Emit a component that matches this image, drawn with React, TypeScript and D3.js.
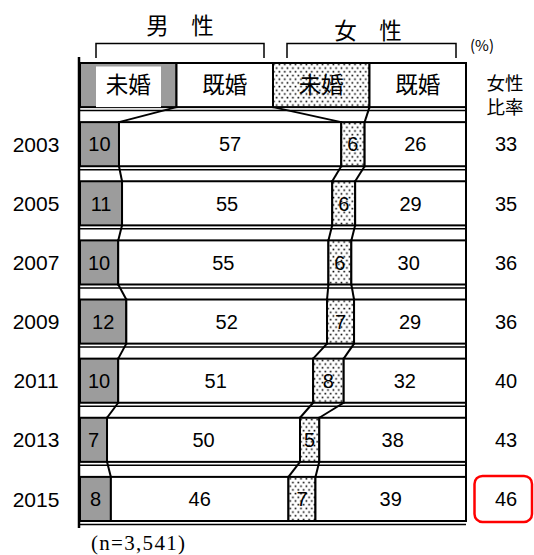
import React from 'react';
import * as d3 from 'd3';

const years = ['2003', '2005', '2007', '2009', '2011', '2013', '2015'];
const maleSingle = [10, 11, 10, 12, 10, 7, 8];
const maleMarried = [57, 55, 55, 52, 51, 50, 46];
const femaleSingle = [6, 6, 6, 7, 8, 5, 7];
const femaleMarried = [26, 29, 30, 29, 32, 38, 39];
const femaleRatio = [33, 35, 36, 36, 40, 43, 46];
const legendLabels = ['未婚', '既婚', '未婚', '既婚'];
const legendShares = [25, 25, 25, 25];

const W = 534;
const H = 555;
const JP = '"Noto Sans CJK JP", sans-serif';
const NUM = '"Liberation Sans", Arial, sans-serif';
const GREY = '#9c9c9c';
const fills = [GREY, '#fff', 'url(#dots)', '#fff'];

interface Row {
  key: string;
  values: number[];
}

const rows: Row[] = [
  { key: 'legend', values: legendShares },
  ...years.map((y, i) => ({
    key: y,
    values: [maleSingle[i], maleMarried[i], femaleSingle[i], femaleMarried[i]]
  }))
];

const App: React.FC = () => {
  const yScale = d3.scaleBand<string>()
    .domain(rows.map(r => r.key))
    .range([63, 521])
    .paddingInner(0.254)
    .paddingOuter(0);
  const xScale = d3.scaleLinear().domain([0, 1]).range([80, 466]);
  const bw = yScale.bandwidth();

  // cumulative edges per row, each row normalised to its own total
  const edges = rows.map(r => {
    const total = d3.sum(r.values);
    const cum = d3.cumsum(r.values);
    return [0, ...Array.from(cum)].map(v => xScale(v / total));
  });

  return (
    <svg width={W} height={H} style={{ position: 'absolute', left: 0, top: 0, background: '#fff' }}>
      <defs>
        <pattern id="dots" width={5.4} height={7.4} patternUnits="userSpaceOnUse">
          <rect width={5.4} height={7.4} fill="#fff" />
          <rect x={0.5} y={0.7} width={1.6} height={1.6} fill="#000" />
          <rect x={3.2} y={4.4} width={1.6} height={1.6} fill="#000" />
        </pattern>
      </defs>

      {/* gender headers */}
      <text x={180} y={34} textAnchor="middle" fontFamily={JP} fontSize={22.5}>男　性</text>
      <text x={368} y={39} textAnchor="middle" fontFamily={JP} fontSize={22.5}>女　性</text>
      <path d="M96,58V43.5H264V58" fill="none" stroke="#000" strokeWidth={1.5} />
      <path d="M287,58V43.5H456V58" fill="none" stroke="#000" strokeWidth={1.5} />
      <text x={482} y={51} textAnchor="middle" fontFamily={JP} fontSize={15}>(%)</text>
      <text x={505} y={90} textAnchor="middle" fontFamily={JP} fontSize={18.5}>女性</text>
      <text x={505} y={114} textAnchor="middle" fontFamily={JP} fontSize={18.5}>比率</text>

      {/* connector lines between rows */}
      {rows.slice(0, -1).map((r, i) => {
        const y0 = (yScale(r.key) || 0) + bw;
        const y1 = yScale(rows[i + 1].key) || 0;
        return [1, 2, 3].map(k => (
          <line key={`c${i}-${k}`} x1={edges[i][k]} y1={y0} x2={edges[i + 1][k]} y2={y1}
            stroke="#000" strokeWidth={2} />
        ));
      })}

      {/* thin separator lines under each row */}
      {rows.map(r => {
        const yy = (yScale(r.key) || 0) + bw + 3.5;
        return <line key={`s${r.key}`} x1={79} x2={466} y1={yy} y2={yy} stroke="#000" strokeWidth={1.5} />;
      })}
      <line x1={466} x2={466} y1={63} y2={(yScale('2015') || 0) + bw} stroke="#000" strokeWidth={2} />

      {/* bars */}
      {rows.map((r, i) => {
        const top = yScale(r.key) || 0;
        return (
          <g key={r.key}>
            {r.values.map((v, k) => (
              <rect key={k} x={edges[i][k]} y={top} width={edges[i][k + 1] - edges[i][k]} height={bw}
                fill={fills[k]} stroke="#000" strokeWidth={2} />
            ))}
            {i === 0 && (
              <rect x={96} y={top + 3.5} width={65} height={bw - 3.5} fill="#fff" />
            )}
            {r.values.map((v, k) => (
              <text key={`t${k}`} x={(edges[i][k] + edges[i][k + 1]) / 2} y={top + bw / 2}
                dy="0.36em" textAnchor="middle"
                fontFamily={i === 0 ? JP : NUM} fontSize={i === 0 ? 22.5 : 20}>
                {i === 0 ? legendLabels[k] : v}
              </text>
            ))}
            {i > 0 && (
              <text x={36} y={top + bw / 2} dy="0.36em" textAnchor="middle" fontFamily={NUM} fontSize={21}>
                {r.key}
              </text>
            )}
            {i > 0 && (
              <text x={506} y={top + bw / 2} dy="0.36em" textAnchor="middle" fontFamily={NUM} fontSize={20}>
                {femaleRatio[i - 1]}
              </text>
            )}
          </g>
        );
      })}

      {/* highlight latest ratio */}
      <rect x={474.5} y={(yScale('2015') || 0) - 1} width={57.5} height={bw + 2} rx={8}
        fill="none" stroke="#f00" strokeWidth={2.5} />

      {/* left axis */}
      <line x1={79} x2={79} y1={57} y2={528} stroke="#000" strokeWidth={2.5} />

      <text x={91} y={550} fontFamily='"Liberation Serif", serif' fontSize={21} textLength={94} lengthAdjust="spacing">(n=3,541)</text>
    </svg>
  );
};

export default App;
